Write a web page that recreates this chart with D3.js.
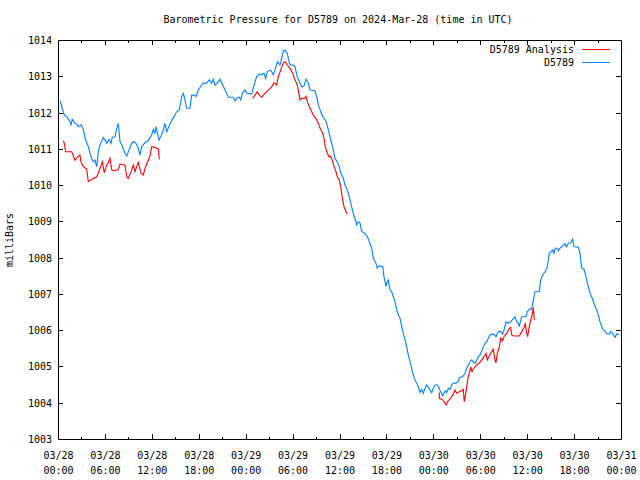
<!DOCTYPE html>
<html><head><meta charset="utf-8">
<script src="https://cdn.jsdelivr.net/npm/d3@7"></script>
<style>
body{margin:0;background:#fff}
svg text{font-family:"DejaVu Sans Mono","Liberation Mono",monospace;font-size:10px;fill:#000}
</style>
</head><body>
<svg id="chart" width="640" height="480"></svg>
<script>
// ---------------- data ----------------
const chartTitle = "Barometric Pressure for D5789 on 2024-Mar-28 (time in UTC)";
const yLabel = "milliBars";
const seriesNames = ["D5789 Analysis", "D5789"];
const seriesColors = ["#ff0000", "#0080ff"];
const startUTC = Date.UTC(2024, 2, 28, 0, 0);
const yTickValues = [1003,1004,1005,1006,1007,1008,1009,1010,1011,1012,1013,1014];
const xMajorHours = [0,6,12,18,24,30,36,42,48,54,60,66,72];
const xMinorHours = [3,9,15,21,27,33,39,45,51,57,63,69];

// observed D5789: [hours since 03/28 00:00 UTC, mb]
const d5789 = [
[0.26,1012.32],[0.81,1011.93],[1.11,1011.89],[1.53,1011.75],[1.66,1011.66],[1.83,1011.81],[2.17,1011.70],[2.39,1011.68],
[2.60,1011.61],[2.94,1011.66],[3.24,1011.54],[3.45,1011.29],[3.88,1011.06],[4.22,1010.78],[4.51,1010.64],[4.73,1010.69],
[4.95,1010.51],[5.15,1010.92],[5.37,1011.11],[5.79,1011.31],[6.01,1011.24],[6.23,1011.15],[6.52,1011.26],[6.78,1011.15],
[6.94,1011.32],[7.29,1011.33],[7.51,1011.57],[7.71,1011.70],[7.93,1011.20],[8.15,1011.11],[8.57,1010.88],[8.79,1010.80],
[9.08,1010.97],[9.42,1011.15],[9.63,1011.20],[9.98,1011.15],[10.27,1011.01],[10.49,1010.83],[10.70,1011.06],[11.13,1011.17],
[11.55,1011.22],[11.98,1011.38],[12.19,1011.54],[12.40,1011.43],[12.53,1011.61],[12.92,1011.24],[13.17,1011.35],[13.47,1011.52],
[13.68,1011.70],[13.90,1011.47],[14.32,1011.68],[14.75,1011.86],[15.18,1012.02],[15.51,1012.07],[15.82,1012.44],[16.02,1012.53],
[16.24,1012.35],[16.46,1012.12],[16.88,1012.12],[17.10,1012.48],[17.39,1012.48],[17.65,1012.44],[17.94,1012.62],[18.38,1012.76],
[18.58,1012.81],[19.02,1012.81],[19.35,1012.90],[19.66,1012.81],[19.86,1012.92],[20.08,1012.76],[20.37,1012.81],[20.72,1012.92],
[21.06,1012.76],[21.36,1012.62],[21.78,1012.42],[22.42,1012.42],[22.64,1012.32],[22.85,1012.39],[23.19,1012.42],[23.37,1012.35],
[23.62,1012.55],[23.91,1012.62],[24.13,1012.53],[24.77,1012.51],[25.07,1012.76],[25.41,1012.99],[25.74,1013.06],[26.05,1013.04],
[26.34,1013.08],[26.56,1012.94],[26.77,1013.13],[27.20,1013.17],[27.53,1013.04],[27.88,1013.26],[28.05,1013.40],[28.39,1013.31],
[28.61,1013.50],[28.81,1013.70],[29.03,1013.72],[29.32,1013.63],[29.45,1013.50],[29.67,1013.31],[30.09,1013.31],[30.31,1013.26],
[30.60,1012.99],[30.95,1012.81],[31.17,1012.71],[31.46,1012.73],[31.72,1012.92],[32.01,1012.82],[32.23,1012.62],[32.87,1012.60],
[33.08,1012.44],[33.29,1012.21],[33.60,1012.02],[33.85,1011.89],[34.15,1011.81],[34.36,1011.70],[34.57,1011.52],[34.79,1011.33],
[35.00,1011.15],[35.21,1010.97],[35.42,1010.74],[35.72,1010.64],[35.97,1010.51],[36.15,1010.33],[36.49,1010.19],[36.70,1010.00],
[36.92,1009.91],[37.13,1009.77],[37.34,1009.59],[37.56,1009.40],[37.76,1009.22],[37.98,1009.08],[38.20,1008.90],[38.40,1008.99],
[38.62,1008.96],[38.84,1008.72],[39.26,1008.67],[39.56,1008.58],[39.81,1008.44],[40.12,1008.26],[40.32,1007.98],[40.67,1007.84],
[40.83,1007.71],[41.09,1007.78],[41.53,1007.75],[41.69,1007.47],[41.95,1007.20],[42.11,1007.34],[42.24,1007.38],[42.46,1007.11],
[42.68,1007.06],[42.88,1006.92],[43.10,1006.79],[43.32,1006.56],[43.52,1006.42],[43.74,1006.33],[43.95,1006.10],[44.16,1005.91],
[44.38,1005.73],[44.59,1005.54],[44.80,1005.32],[45.02,1005.13],[45.23,1004.95],[45.44,1004.76],[45.66,1004.63],[45.87,1004.54],
[46.08,1004.44],[46.30,1004.28],[46.51,1004.37],[46.72,1004.26],[46.93,1004.40],[47.15,1004.49],[47.36,1004.44],[47.57,1004.35],
[47.79,1004.28],[48.00,1004.40],[48.21,1004.49],[48.51,1004.49],[48.76,1004.40],[48.94,1004.30],[49.20,1004.19],[49.36,1004.26],
[49.53,1004.33],[49.71,1004.28],[49.91,1004.40],[50.13,1004.37],[50.35,1004.49],[50.55,1004.54],[50.90,1004.54],[51.19,1004.58],
[51.32,1004.69],[51.76,1004.72],[52.05,1004.81],[52.27,1004.95],[52.47,1005.04],[52.69,1005.13],[52.91,1005.18],[53.11,1005.13],
[53.33,1005.09],[53.55,1005.18],[53.75,1005.27],[53.97,1005.32],[54.19,1005.43],[54.39,1005.54],[54.61,1005.64],[54.83,1005.68],
[55.03,1005.78],[55.25,1005.87],[55.46,1005.89],[55.75,1005.89],[56.01,1005.82],[56.31,1005.96],[56.62,1005.96],[56.87,1005.89],
[57.04,1006.00],[57.29,1006.23],[57.59,1006.19],[57.89,1006.23],[58.15,1006.30],[58.44,1006.37],[58.66,1006.23],[58.87,1006.19],
[58.99,1006.10],[59.17,1006.28],[59.30,1006.37],[59.85,1006.37],[60.02,1006.51],[60.27,1006.58],[60.58,1006.58],[60.78,1006.83],
[61.00,1007.06],[61.55,1007.06],[61.73,1007.38],[61.86,1007.47],[62.15,1007.57],[62.41,1007.66],[62.58,1007.75],[62.83,1008.12],
[63.01,1008.16],[63.27,1008.21],[63.43,1008.12],[63.56,1008.26],[63.78,1008.26],[63.98,1008.19],[64.20,1008.26],[64.42,1008.30],
[64.62,1008.35],[64.84,1008.38],[65.06,1008.30],[65.26,1008.40],[65.57,1008.41],[65.82,1008.51],[65.99,1008.30],[66.54,1008.29],
[66.76,1008.12],[66.97,1007.71],[67.27,1007.68],[67.40,1007.57],[67.61,1007.38],[67.82,1007.20],[68.04,1007.02],[68.25,1006.92],
[68.46,1006.79],[68.68,1006.65],[68.89,1006.56],[69.10,1006.42],[69.31,1006.23],[69.53,1006.10],[69.74,1006.00],[69.95,1005.98],
[70.17,1005.91],[70.50,1005.89],[70.68,1005.96],[70.94,1005.91],[71.23,1005.80],[71.45,1005.89],[71.78,1005.89]
];

// analysis D5789, three separate runs
const analysisRun1 = [
[0.68,1011.22],[0.81,1011.15],[0.98,1010.92],[1.75,1010.92],[1.83,1010.88],[2.17,1010.69],[2.52,1010.78],[2.81,1010.83],
[2.94,1010.64],[3.24,1010.51],[3.67,1010.44],[3.88,1010.09],[4.31,1010.16],[4.95,1010.23],[5.15,1010.33],[5.37,1010.46],
[5.67,1010.64],[5.92,1010.34],[6.23,1010.55],[6.43,1010.62],[6.65,1010.74],[6.87,1010.42],[7.07,1010.40],[7.71,1010.42],
[7.93,1010.58],[8.57,1010.55],[8.79,1010.23],[8.99,1010.19],[9.34,1010.37],[9.63,1010.55],[9.85,1010.37],[10.06,1010.51],
[10.27,1010.62],[10.61,1010.33],[10.91,1010.28],[11.13,1010.46],[11.34,1010.58],[11.77,1010.80],[11.98,1011.06],[12.40,1011.04],
[12.83,1010.99],[12.96,1010.71]
];
const analysisRun2 = [
[24.90,1012.39],[25.19,1012.48],[25.49,1012.57],[25.74,1012.48],[26.05,1012.42],[26.47,1012.53],[26.89,1012.62],[27.33,1012.71],
[27.62,1012.82],[27.97,1012.76],[28.17,1012.99],[28.48,1013.17],[28.81,1013.37],[29.03,1013.40],[29.32,1013.31],[29.67,1013.22],
[30.02,1013.08],[30.31,1012.90],[30.60,1012.76],[30.73,1012.62],[30.95,1012.35],[31.17,1012.39],[31.46,1012.39],[31.72,1012.44],
[31.88,1012.30],[32.14,1012.16],[32.44,1012.02],[32.65,1011.93],[32.99,1011.84],[33.29,1011.70],[33.51,1011.57],[33.85,1011.43],
[34.02,1011.29],[34.18,1011.06],[34.44,1010.88],[34.70,1010.77],[34.87,1010.80],[35.08,1010.69],[35.30,1010.51],[35.55,1010.37],
[35.72,1010.23],[35.97,1010.14],[36.15,1009.96],[36.28,1009.77],[36.41,1009.59],[36.58,1009.40],[36.74,1009.31],[37.00,1009.20]
];
const analysisRun3 = [
[48.76,1004.28],[48.77,1004.12],[49.20,1004.08],[49.62,1003.94],[49.91,1004.06],[50.22,1004.12],[50.48,1004.21],[50.77,1004.35],
[50.99,1004.26],[51.32,1004.30],[51.63,1004.33],[51.83,1004.37],[51.96,1004.03],[52.14,1004.26],[52.34,1004.54],[52.47,1004.72],
[52.69,1004.90],[52.78,1004.99],[52.94,1004.86],[53.20,1004.95],[53.55,1005.04],[53.88,1005.09],[54.19,1005.18],[54.48,1005.27],
[54.74,1005.36],[54.90,1005.18],[55.25,1005.32],[55.46,1005.41],[55.67,1005.47],[55.88,1005.18],[56.01,1005.10],[56.18,1005.36],
[56.44,1005.54],[56.62,1005.78],[56.87,1005.71],[57.04,1005.82],[57.38,1005.91],[57.72,1006.05],[57.89,1006.08],[58.02,1005.87],
[58.31,1005.84],[58.99,1005.84],[59.30,1005.96],[59.60,1006.08],[59.76,1006.17],[59.94,1005.91],[60.07,1005.84],[60.23,1006.05],
[60.45,1006.28],[60.58,1006.37],[60.71,1006.51],[60.78,1006.63],[60.87,1006.42],[60.91,1006.28]
];
const analysisRuns = [analysisRun1, analysisRun2, analysisRun3];

// ---------------- chart ----------------
const W = 640, H = 480;
const margin = {left: 58, right: 19, top: 40, bottom: 41};
const svg = d3.select("#chart");
const toDate = h => new Date(startUTC + h * 3600e3);

const x = d3.scaleUtc()
  .domain([toDate(0), toDate(72)])
  .range([margin.left, W - margin.right]);
const y = d3.scaleLinear()
  .domain([1003, 1014])
  .range([H - margin.bottom, margin.top]);

const fmtDay = d3.utcFormat("%m/%d");
const fmtTime = d3.utcFormat("%H:%M");

// title
svg.append("text").attr("x", 338).attr("y", 23).attr("text-anchor", "middle").text(chartTitle);
// y label
svg.append("text").attr("transform", "translate(13,240) rotate(-90)").attr("text-anchor", "middle").text(yLabel);

const axisG = svg.append("g").attr("shape-rendering", "crispEdges");
// bottom major axis with labels
const bottom = axisG.append("g").attr("transform", `translate(0,${H - margin.bottom})`)
  .call(d3.axisBottom(x).tickValues(xMajorHours.map(toDate)).tickSize(-5).tickFormat(""));
bottom.select(".domain").remove();
bottom.selectAll(".tick").each(function(d) {
  const t = d3.select(this).append("text").attr("text-anchor", "middle");
  t.append("tspan").attr("x", 0).attr("y", 20).text(fmtDay(d));
  t.append("tspan").attr("x", 0).attr("y", 35).text(fmtTime(d));
});
// bottom minor
axisG.append("g").attr("transform", `translate(0,${H - margin.bottom})`)
  .call(d3.axisBottom(x).tickValues(xMinorHours.map(toDate)).tickSize(-2.5).tickFormat(""))
  .select(".domain").remove();
// top mirror
axisG.append("g").attr("transform", `translate(0,${margin.top})`)
  .call(d3.axisTop(x).tickValues(xMajorHours.map(toDate)).tickSize(-5).tickFormat(""))
  .select(".domain").remove();
axisG.append("g").attr("transform", `translate(0,${margin.top})`)
  .call(d3.axisTop(x).tickValues(xMinorHours.map(toDate)).tickSize(-2.5).tickFormat(""))
  .select(".domain").remove();
// left
const left = axisG.append("g").attr("transform", `translate(${margin.left},0)`)
  .call(d3.axisLeft(y).tickValues(yTickValues).tickSize(-5).tickPadding(6).tickFormat(d3.format("d")));
left.select(".domain").remove();
left.selectAll("text").attr("dy", "0.35em").attr("x", -6);
// right
axisG.append("g").attr("transform", `translate(${W - margin.right},0)`)
  .call(d3.axisRight(y).tickValues(yTickValues).tickSize(-5).tickFormat(""))
  .select(".domain").remove();
axisG.selectAll(".tick line").attr("stroke", "#000");
axisG.selectAll("g").attr("font-family", null).attr("font-size", null);
// frame
axisG.append("rect")
  .attr("x", margin.left).attr("y", margin.top)
  .attr("width", W - margin.left - margin.right).attr("height", H - margin.top - margin.bottom)
  .attr("fill", "none").attr("stroke", "#000");

// series
const line = d3.line().x(d => x(toDate(d[0]))).y(d => y(d[1]));
const plot = svg.append("g");
plot.append("path").datum(d5789)
  .attr("d", line).attr("fill", "none").attr("stroke", seriesColors[1]).attr("stroke-width", 1.1);
analysisRuns.forEach(run => {
  plot.append("path").datum(run)
    .attr("d", line).attr("fill", "none").attr("stroke", seriesColors[0]).attr("stroke-width", 1.1);
});

// legend
const legend = svg.append("g");
seriesNames.forEach((name, i) => {
  const ly = 49 + i * 13;
  legend.append("text").attr("x", 574).attr("y", ly + 4).attr("text-anchor", "end").text(name);
  legend.append("line").attr("x1", 582).attr("x2", 610).attr("y1", ly + 0.5).attr("y2", ly + 0.5)
    .attr("stroke", seriesColors[i]).attr("stroke-width", 1).attr("shape-rendering", "crispEdges");
});
</script>
</body></html>
